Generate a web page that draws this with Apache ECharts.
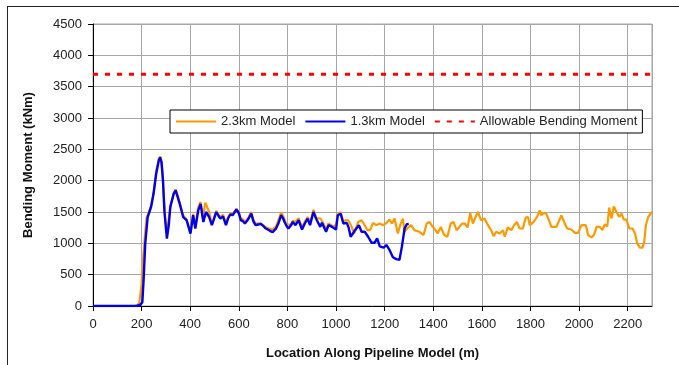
<!DOCTYPE html>
<html>
<head>
<meta charset="utf-8">
<script src="https://cdn.jsdelivr.net/npm/echarts@6/dist/echarts.min.js"></script>
<style>
  html, body { margin: 0; padding: 0; background: #fff; }
  #frame { position: absolute; left: 7px; top: 6px; width: 672px; height: 359px;
           border-top: 1px solid #222; border-left: 1px solid #222; }
  #chart { position: absolute; left: 0; top: 0; width: 679px; height: 365px; }
</style>
</head>
<body>
<div id="frame"></div>
<div id="chart"></div>
<script>
// location along pipeline (m) and bending moment (kNm)
var longX = [0, 100, 170, 180, 190, 200, 205, 212, 220, 230, 240, 250, 260, 270, 277, 285, 292, 298, 305, 312,
  320, 332, 340, 350, 360, 372, 385, 395, 402, 412, 421, 432, 442, 452, 462, 470, 478, 489, 497, 507,
  516, 524, 535, 547, 556, 565, 575, 582, 590, 600, 608, 618, 625, 638, 651, 660, 669, 680, 690, 700,
  710, 718, 728, 739, 746, 753, 764, 774, 782, 788, 796, 804, 815, 822, 833, 846, 860, 872, 883, 893,
  907, 915, 921, 935, 948, 959, 969, 980, 989, 1000, 1007, 1019, 1030, 1040, 1050, 1064, 1075, 1091, 1105, 1118,
  1129, 1140, 1152, 1165, 1180, 1193, 1205, 1220, 1230, 1241, 1254, 1264, 1275, 1282, 1296, 1309, 1322, 1343, 1360, 1373,
  1384, 1395, 1404, 1418, 1431, 1445, 1458, 1472, 1483, 1496, 1508, 1518, 1530, 1541, 1552, 1563, 1574, 1584, 1597, 1611,
  1625, 1638, 1648, 1659, 1673, 1687, 1694, 1707, 1721, 1732, 1744, 1755, 1769, 1780, 1790, 1797, 1813, 1827, 1838, 1845,
  1854, 1865, 1876, 1886, 1907, 1927, 1941, 1951, 1968, 1982, 1996, 2010, 2028, 2037, 2051, 2061, 2072, 2085, 2092, 2096,
  2106, 2116, 2124, 2133, 2143, 2154, 2165, 2175, 2184, 2195, 2206, 2220, 2230, 2239, 2250, 2261, 2268, 2275, 2284, 2300];
var longY = [0, 0, 0, 10, 40, 350, 700, 1050, 1400, 1500, 1620, 1820, 2150, 2340, 2390, 2150, 1700, 1350, 1200, 1400,
  1620, 1800, 1860, 1750, 1600, 1440, 1380, 1250, 1180, 1470, 1260, 1560, 1660, 1400, 1650, 1660, 1500, 1310, 1400, 1520,
  1460, 1420, 1460, 1320, 1420, 1480, 1470, 1480, 1550, 1500, 1400, 1380, 1340, 1400, 1500, 1380, 1310, 1320, 1300, 1290,
  1260, 1230, 1230, 1220, 1250, 1270, 1380, 1490, 1440, 1380, 1300, 1270, 1300, 1360, 1342, 1400, 1260, 1350, 1420, 1340,
  1537, 1450, 1395, 1400, 1320, 1220, 1320, 1290, 1263, 1300, 1460, 1500, 1342, 1370, 1368, 1263, 1158, 1342, 1368, 1290,
  1210, 1210, 1326, 1290, 1316, 1290, 1316, 1379, 1316, 1395, 1158, 1290, 1395, 1184, 1250, 1290, 1210, 1184, 1132, 1316,
  1342, 1280, 1237, 1158, 1263, 1132, 1105, 1316, 1342, 1210, 1263, 1316, 1316, 1253, 1484, 1316, 1420, 1500, 1368, 1395,
  1290, 1210, 1116, 1184, 1158, 1210, 1105, 1253, 1210, 1290, 1342, 1237, 1237, 1410, 1421, 1290, 1342, 1421, 1526, 1447,
  1484, 1473, 1368, 1263, 1263, 1447, 1316, 1237, 1220, 1168, 1168, 1290, 1290, 1132, 1095, 1132, 1263, 1263, 1290, 1210,
  1305, 1270, 1568, 1395, 1589, 1500, 1421, 1473, 1379, 1379, 1237, 1237, 1158, 1000, 932, 932, 1027, 1290, 1421, 1500];

var shortX = [0, 180, 195, 203, 208, 215, 225, 232, 239, 249, 260, 271, 276, 282, 288, 294, 304, 312, 318, 332,
  340, 357, 371, 385, 401, 412, 421, 433, 443, 454, 465, 478, 489, 497, 507, 516, 524, 535, 547, 556,
  565, 575, 590, 600, 608, 618, 625, 638, 651, 660, 669, 680, 690, 700, 710, 718, 728, 739, 746, 753,
  764, 774, 782, 788, 796, 804, 815, 822, 833, 846, 860, 872, 883, 893, 907, 915, 921, 935, 942, 948,
  959, 969, 980, 989, 1000, 1007, 1019, 1030, 1044, 1052, 1060, 1070, 1078, 1094, 1105, 1118, 1132, 1146, 1159, 1169,
  1180, 1186, 1196, 1207, 1220, 1234, 1248, 1261, 1271, 1282, 1291, 1299];
var shortY = [0, 0, 20, 60, 400, 1000, 1420, 1500, 1580, 1790, 2110, 2325, 2370, 2300, 2000, 1500, 1075, 1300, 1580, 1790,
  1845, 1630, 1420, 1370, 1155, 1450, 1235, 1525, 1630, 1340, 1500, 1420, 1290, 1380, 1500, 1440, 1395, 1430, 1290, 1400,
  1460, 1450, 1540, 1480, 1370, 1350, 1315, 1380, 1475, 1350, 1290, 1300, 1315, 1280, 1240, 1210, 1200, 1180, 1210, 1235,
  1330, 1450, 1400, 1340, 1280, 1235, 1290, 1342, 1290, 1368, 1220, 1320, 1395, 1290, 1500, 1420, 1368, 1263, 1330, 1300,
  1184, 1290, 1270, 1250, 1220, 1447, 1473, 1316, 1326, 1250, 1105, 1160, 1210, 1290, 1184, 1184, 1105, 1010, 1010, 1079,
  950, 921, 930, 974, 895, 779, 748, 737, 948, 1237, 1305, 1310];

var allowableX = [0, 2300];
var allowableY = [3700, 3700];

function pairs(xs, ys) {
  return xs.map(function (x, i) { return [x, ys[i]]; });
}

var chart = echarts.init(document.getElementById('chart'), null, { renderer: 'canvas' });
var font = 'Liberation Sans, Arial, sans-serif';
var plain = function (v) { return String(v); };

chart.setOption({
  animation: false,
  textStyle: { fontFamily: font },
  grid: { left: 93, right: 27, top: 24, bottom: 59, show: true, borderColor: '#a6a6a6', borderWidth: 1 },
  legend: {
    left: 170, top: 110,
    backgroundColor: '#fff', borderColor: '#000', borderWidth: 1,
    padding: [5, 5, 5, 5],
    itemWidth: 40, itemHeight: 12, itemGap: 9,
    itemStyle: { opacity: 0 },
    textStyle: { fontSize: 13, color: '#222', fontFamily: font },
    data: ['2.3km Model', '1.3km Model', 'Allowable Bending Moment']
  },
  xAxis: {
    type: 'value', min: 0, max: 2300, interval: 200,
    name: 'Location Along Pipeline Model (m)', nameLocation: 'middle', nameGap: 41,
    nameTextStyle: { fontSize: 13, fontWeight: 'bold', color: '#111' },
    axisLine: { lineStyle: { color: '#000', width: 1 } },
    axisTick: { show: true, length: 5, lineStyle: { color: '#000' } },
    axisLabel: { fontSize: 13, color: '#222', margin: 12, showMaxLabel: false, formatter: plain },
    splitLine: { show: true, lineStyle: { color: '#a6a6a6', width: 1 } }
  },
  yAxis: {
    type: 'value', min: 0, max: 4500, interval: 500,
    name: 'Bending Moment (kNm)', nameLocation: 'middle', nameGap: 58,
    nameTextStyle: { fontSize: 13, fontWeight: 'bold', color: '#111' },
    axisLine: { show: true, lineStyle: { color: '#000', width: 1 } },
    axisTick: { show: true, length: 5, lineStyle: { color: '#000' } },
    axisLabel: { fontSize: 13, color: '#222', margin: 11, formatter: plain },
    splitLine: { show: true, lineStyle: { color: '#a6a6a6', width: 1 } }
  },
  series: [
    {
      name: '2.3km Model', type: 'line', showSymbol: false, symbol: 'none',
      data: pairs(longX, longY),
      lineStyle: { color: '#ff9900', width: 2.2 }, itemStyle: { color: '#ff9900' }, z: 2
    },
    {
      name: '1.3km Model', type: 'line', showSymbol: false, symbol: 'none',
      data: pairs(shortX, shortY),
      lineStyle: { color: '#0000ee', width: 2.4 }, itemStyle: { color: '#0000ee' }, z: 3
    },
    {
      name: 'Allowable Bending Moment', type: 'line', showSymbol: false, symbol: 'none',
      data: pairs(allowableX, allowableY),
      lineStyle: { color: '#ff0000', width: 3, type: [5, 7] }, itemStyle: { color: '#ff0000' }, z: 4
    }
  ]
});
</script>
</body>
</html>
